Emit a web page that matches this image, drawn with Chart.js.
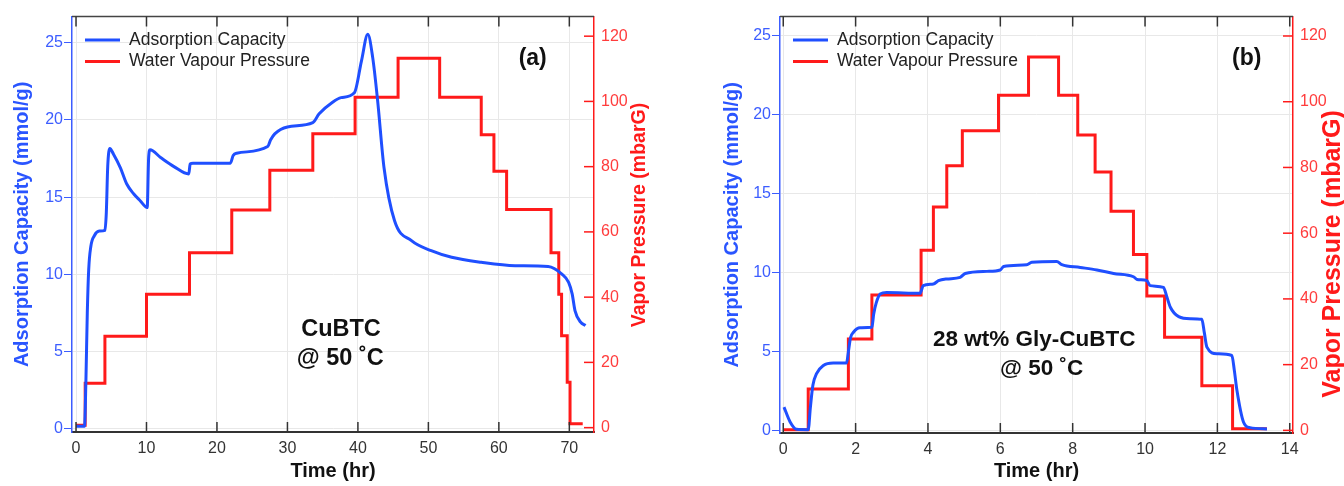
<!DOCTYPE html>
<html>
<head>
<meta charset="utf-8">
<script src="https://cdn.jsdelivr.net/npm/chart.js@4.4.1/dist/chart.umd.min.js"></script>
<style>
  html, body { margin: 0; padding: 0; background: #fff; }
  #wrap { position: relative; width: 1344px; height: 486px; }
  canvas { position: absolute; top: 0; }
  #chartA { left: 0; }
  #chartB { left: 672px; }
</style>
</head>
<body>
<div id="wrap">
  <canvas id="chartA" width="672" height="486"></canvas>
  <canvas id="chartB" width="672" height="486"></canvas>
</div>
<script>
// ---- data ----
// (a) CuBTC, time in hr
const capA_t = [0, 1.2, 1.4, 1.6, 1.8, 2.1, 2.6, 3.3, 4.1, 4.3, 4.5, 4.8, 5.3, 6.3, 7.2, 8.2, 9.1, 10.1, 10.3, 10.5,
  12.0, 13.9, 16.0, 16.2, 16.6, 21.9, 22.3, 22.8, 27.2, 27.6, 28.2, 30.0, 33.6, 34.5, 36.4, 37.6, 39.5, 40.5, 41.4,
  42.1, 42.8, 43.7, 45.2, 47.6, 50.4, 53.3, 57.5, 62.3, 67.0, 68.9, 69.9, 70.4, 70.8, 71.6, 72.3];
const capA = [0.15, 0.15, 3, 7.5, 10.3, 11.8, 12.5, 12.8, 12.85, 14, 17, 18.15, 17.8, 16.9, 15.85, 15.2, 14.77, 14.33, 17.5, 18.07,
  17.57, 16.98, 16.5, 17.15, 17.2, 17.2, 17.7, 17.85, 18.28, 18.7, 19.1, 19.55, 19.83, 20.4, 21.15, 21.45, 21.77, 23.82, 25.55,
  24.04, 21.24, 16.92, 13.47, 12.18, 11.53, 11.1, 10.78, 10.56, 10.5, 10.03, 9.48, 8.73, 7.65, 6.9, 6.68];
const presA_t = [0, 1.3, 4.1, 10.0, 16.1, 22.1, 27.5, 33.6, 39.6, 45.7, 51.6, 57.5, 59.3, 61.1, 67.4, 68.5, 68.9, 69.7, 70.1, 71.9];
const presA = [0.7, 13.6, 28.0, 40.9, 53.6, 66.7, 78.9, 90.1, 101.3, 113.2, 101.3, 89.8, 78.6, 66.9, 53.6, 40.9, 28.2, 13.9, 1.2, 1.2];

// (b) 28 wt% Gly-CuBTC
const capB_t = [0.02, 0.19, 0.37, 0.69, 0.75, 0.82, 0.92, 1.11, 1.38, 1.75, 1.8, 1.86, 1.94, 2.12, 2.45, 2.5, 2.57, 2.68, 2.86,
  3.78, 3.87, 4.15, 4.29, 4.52, 4.89, 5.03, 5.63, 6.0, 6.09, 6.73, 6.87, 7.56, 7.7, 8.21, 8.67, 9.13, 9.68, 9.78, 10.05, 10.14,
  10.51, 10.6, 10.7, 10.93, 11.25, 11.57, 11.64, 11.71, 11.99, 12.4, 12.47, 12.54, 12.72, 12.9, 13.37];
const capB = [1.51, 0.57, 0.1, 0.08, 1.5, 2.9, 3.62, 4.14, 4.29, 4.3, 5.0, 5.9, 6.24, 6.52, 6.55, 7.4, 8.1, 8.66, 8.76,
  8.7, 9.19, 9.29, 9.5, 9.61, 9.71, 9.96, 10.09, 10.18, 10.4, 10.51, 10.66, 10.72, 10.51, 10.34, 10.18, 9.96, 9.75, 9.58, 9.5, 9.19,
  9.08, 8.5, 7.82, 7.23, 7.1, 7.06, 6.2, 5.3, 4.88, 4.77, 3.8, 2.57, 0.57, 0.21, 0.13];
const presB_t = [0, 0.69, 1.8, 2.45, 3.81, 4.15, 4.52, 4.95, 5.95, 6.78, 7.61, 8.14, 8.62, 9.06, 9.68, 10.05, 10.54, 11.57, 12.42, 13.37];
const presB = [0.2, 12.6, 27.8, 41.2, 54.8, 68.0, 80.5, 91.2, 102.0, 113.6, 102.0, 89.9, 78.6, 66.7, 53.5, 40.9, 28.3, 13.6, 0.5, 0.5];

// tick labels
const xTicksA = [0, 10, 20, 30, 40, 50, 60, 70];
const xTicksB = [0, 2, 4, 6, 8, 10, 12, 14];
const capTicks = [0, 5, 10, 15, 20, 25];
const presTicks = [0, 20, 40, 60, 80, 100, 120];

const BLUE = '#1f4fff';
const RED = '#ff1a1a';
const SANS = "'Liberation Sans', Arial, sans-serif";

const pts = (ts, vs) => ts.map((t, i) => ({ x: t, y: vs[i] }));
const setTicks = arr => scale => { scale.ticks = arr.map(v => ({ value: v })); };

// extra drawing: frame, inward ticks, legend, right title, notes
const decor = {
  id: 'decor',
  afterDraw(chart, args, o) {
    const ctx = chart.ctx;
    const a = chart.chartArea;
    const sx = chart.scales.x, sy = chart.scales.y, sy1 = chart.scales.y1;
    ctx.save();
    // top frame
    ctx.strokeStyle = '#444';
    ctx.lineWidth = 1.5;
    ctx.beginPath();
    ctx.moveTo(a.left, a.top); ctx.lineTo(a.right, a.top);
    ctx.stroke();
    // inward x ticks top and bottom
    ctx.strokeStyle = '#333';
    sx.ticks.forEach(t => {
      const px = sx.getPixelForValue(t.value);
      ctx.beginPath();
      ctx.moveTo(px, a.bottom); ctx.lineTo(px, a.bottom - 10);
      ctx.moveTo(px, a.top); ctx.lineTo(px, a.top + 10);
      ctx.stroke();
    });
    // inward right ticks
    ctx.strokeStyle = RED;
    sy1.ticks.forEach(t => {
      const py = sy1.getPixelForValue(t.value);
      ctx.beginPath();
      ctx.moveTo(a.right, py); ctx.lineTo(a.right - 10, py);
      ctx.stroke();
    });
    // legend
    ctx.font = '17.5px ' + SANS;
    ctx.textBaseline = 'middle';
    ctx.textAlign = 'left';
    o.legend.forEach((item, i) => {
      const y = a.top + 23.5 + i * 21.5;
      ctx.strokeStyle = item.color;
      ctx.lineWidth = 3;
      ctx.beginPath();
      ctx.moveTo(a.left + 13, y); ctx.lineTo(a.left + 48, y);
      ctx.stroke();
      ctx.fillStyle = '#222';
      ctx.fillText(item.label, a.left + 57, y);
    });
    // right axis title, reading upwards
    ctx.save();
    ctx.translate(o.rightTitle.x, o.rightTitle.y);
    ctx.rotate(-Math.PI / 2);
    ctx.font = 'bold ' + o.rightTitle.size + 'px ' + SANS;
    ctx.fillStyle = RED;
    ctx.textAlign = 'center';
    ctx.fillText(o.rightTitle.text, 0, 0);
    ctx.restore();
    // notes
    ctx.fillStyle = '#111';
    ctx.textAlign = 'center';
    o.notes.forEach(n => {
      ctx.font = 'bold ' + n.size + 'px ' + SANS;
      ctx.fillText(n.text, sx.getPixelForValue(n.x), sy.getPixelForValue(n.y));
    });
    ctx.restore();
  }
};

function makeChart(id, cfg) {
  const ctx = document.getElementById(id).getContext('2d');
  return new Chart(ctx, {
    type: 'line',
    data: {
      datasets: [
        { label: 'Adsorption Capacity', data: cfg.cap, yAxisID: 'y', borderColor: BLUE, borderWidth: 3,
          pointRadius: 0, cubicInterpolationMode: 'monotone', fill: false },
        { label: 'Water Vapour Pressure', data: cfg.pres, yAxisID: 'y1', borderColor: RED, borderWidth: 3,
          pointRadius: 0, stepped: true, fill: false }
      ]
    },
    options: {
      responsive: false,
      animation: false,
      devicePixelRatio: 1,
      layout: { padding: { top: 14, left: 0, right: 0, bottom: 0 } },
      plugins: {
        legend: { display: false },
        tooltip: { enabled: false },
        decor: {
          legend: [{ label: 'Adsorption Capacity', color: BLUE }, { label: 'Water Vapour Pressure', color: RED }],
          rightTitle: cfg.rightTitle,
          notes: cfg.notes
        }
      },
      scales: {
        x: {
          type: 'linear',
          min: cfg.xMin, max: cfg.xMax,
          afterBuildTicks: setTicks(cfg.xTicks),
          afterFit: s => { s.height = cfg.xH; },
          grid: { color: '#e8e8e8', drawTicks: false },
          border: { color: '#333', width: 2 },
          ticks: { color: '#333', font: { family: SANS, size: 16 }, padding: 7, maxRotation: 0, autoSkip: false },
          title: { display: true, text: 'Time (hr)', color: '#111', font: { family: SANS, size: 20, weight: 'bold' },
            padding: { top: 0, bottom: 3 } }
        },
        y: {
          position: 'left',
          min: cfg.yMin, max: cfg.yMax,
          afterBuildTicks: setTicks(capTicks),
          afterFit: s => { s.width = cfg.yW; },
          grid: { color: '#e8e8e8', tickColor: '#3c5dff', tickLength: 8 },
          border: { color: '#3c5dff', width: 1.5 },
          ticks: { color: '#3c5dff', font: { family: SANS, size: 16 }, padding: 1 },
          title: { display: true, text: 'Adsorption Capacity (mmol/g)', color: '#2a55ff',
            font: { family: SANS, size: 20, weight: 'bold' }, padding: { top: cfg.yTitlePad, bottom: 0 } }
        },
        y1: {
          position: 'right',
          min: cfg.y1Min, max: cfg.y1Max,
          afterBuildTicks: setTicks(presTicks),
          afterFit: s => { s.width = cfg.y1W; },
          grid: { drawOnChartArea: false, drawTicks: false },
          border: { color: RED, width: 1.5 },
          ticks: { color: '#ff3c3c', font: { family: SANS, size: 16 }, padding: 7 }
        }
      }
    },
    plugins: [decor]
  });
}

makeChart('chartA', {
  cap: pts(capA_t, capA), pres: pts(presA_t, presA),
  xMin: -0.57, xMax: 73.5, xTicks: xTicksA,
  yMin: -0.22, yMax: 26.7, y1Min: -1.34, y1Max: 126,
  xH: 54, yW: 72, y1W: 78, yTitlePad: 10,
  rightTitle: { text: 'Vapor Pressure (mbarG)', size: 19.5, x: 640, y: 215 },
  notes: [
    { text: '(a)', x: 64.8, y: 24.0, size: 23 },
    { text: 'CuBTC', x: 37.6, y: 6.42, size: 23.5 },
    { text: '@ 50 \u02DAC', x: 37.5, y: 4.55, size: 23.5 }
  ]
});

makeChart('chartB', {
  cap: pts(capB_t, capB), pres: pts(presB_t, presB),
  xMin: -0.09, xMax: 14.09, xTicks: xTicksB,
  yMin: -0.13, yMax: 26.2, y1Min: -0.8, y1Max: 125.9,
  xH: 53, yW: 108, y1W: 51, yTitlePad: 48,
  rightTitle: { text: 'Vapor Pressure (mbarG)', size: 25, x: 661, y: 254 },
  notes: [
    { text: '(b)', x: 12.81, y: 23.56, size: 23 },
    { text: '28 wt% Gly-CuBTC', x: 6.94, y: 5.78, size: 22.5 },
    { text: '@ 50 \u02DAC', x: 7.14, y: 3.95, size: 22.5 }
  ]
});
</script>
</body>
</html>
